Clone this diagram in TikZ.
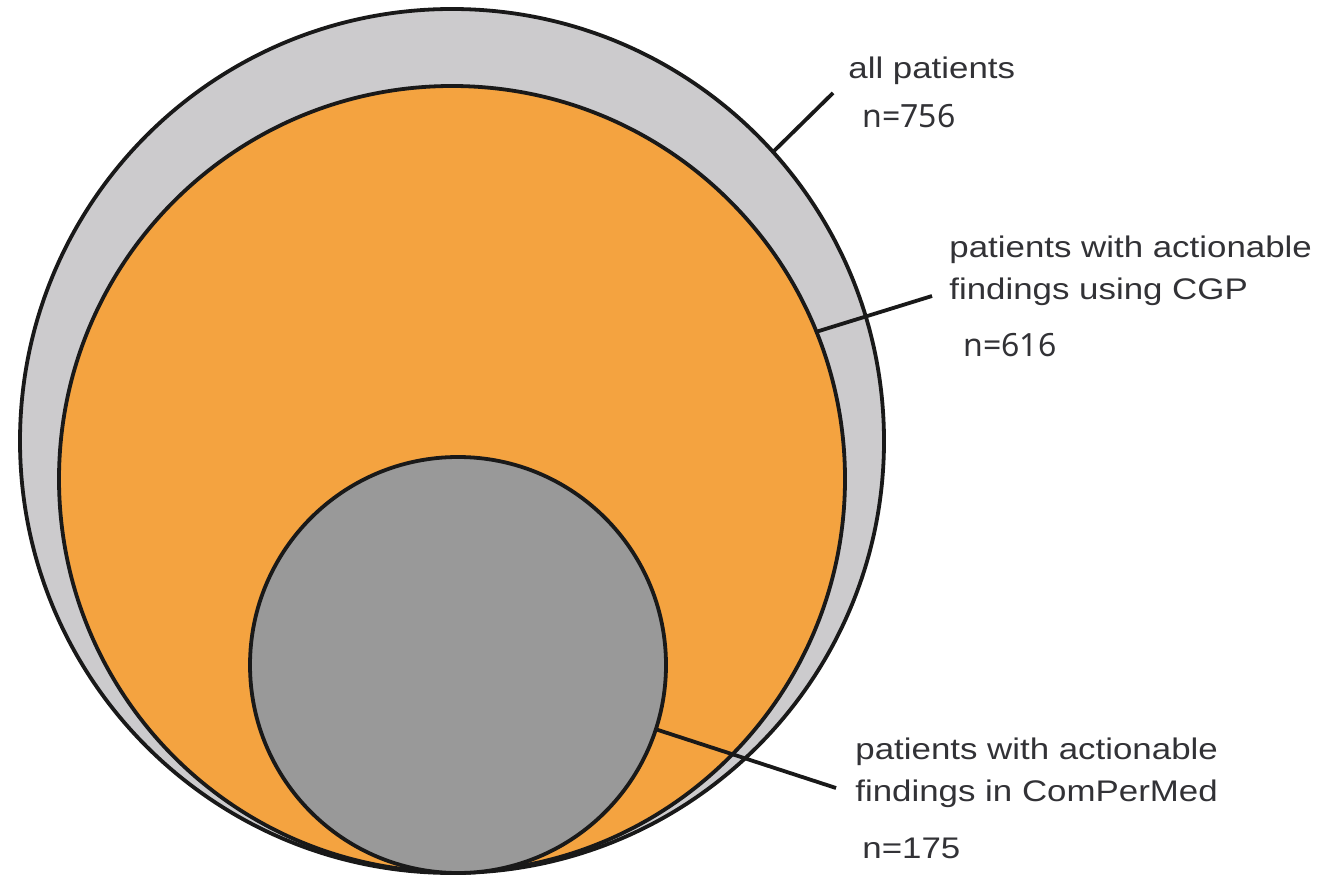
\documentclass[tikz,border=0pt]{standalone}
\usepackage{fontspec}
\setmainfont{Liberation Sans}
\newfontfamily\labfont[FakeStretch=1.17]{Liberation Sans}
\newfontfamily\numfont{Noto Sans}
\definecolor{ringgray}{RGB}{204,203,205}
\definecolor{cgporange}{RGB}{244,163,64}
\definecolor{midgray}{RGB}{153,153,153}
\definecolor{txtgray}{RGB}{50,50,54}
\begin{document}
\begin{tikzpicture}[x=0.5pt,y=-0.5pt,
  setcirc/.style={circle, draw=black!90, line width=1.9pt, inner sep=0pt, outer sep=0pt},
  leader/.style={draw=black!90, line width=1.9pt},
  lab/.style={anchor=base west, inner sep=0pt, align=left, text=txtgray,
    font={\labfont\fontsize{14.9}{21}\selectfont}},
  num/.style={anchor=base west, inner sep=0pt, text=txtgray,
    font={\numfont\fontsize{16}{19}\selectfont}}]
\useasboundingbox (0,0) rectangle (1320,876);
\node[setcirc, fill=ringgray, minimum size=432pt] (all) at (452,441) {};
\node[setcirc, fill=cgporange, minimum size=393pt] (cgp) at (452,479) {};
\node[setcirc, fill=midgray, minimum size=208pt] (cpm) at (458,665) {};
\coordinate (e1) at (833,93);
\coordinate (e2) at (932,296);
\coordinate (e3) at (836,788);
\draw[leader] (all.42) -- (e1);
\draw[leader] (cgp.22) -- (e2);
\draw[leader] (cpm.-18.5) -- (e3);
\node[lab] (lall) at (848,79) {all patients};
\node[num] (nall) at (862,128) {n=756};
\node[lab] (lcgp) at (949,300) {patients with actionable\\findings using CGP};
\node[num] (ncgp) at (963,357) {n=616};
\node[lab] (lcpm) at (855,801) {patients with actionable\\findings in ComPerMed};
\node[lab] (ncpm) at (862,858) {n=175};
\end{tikzpicture}
\end{document}
